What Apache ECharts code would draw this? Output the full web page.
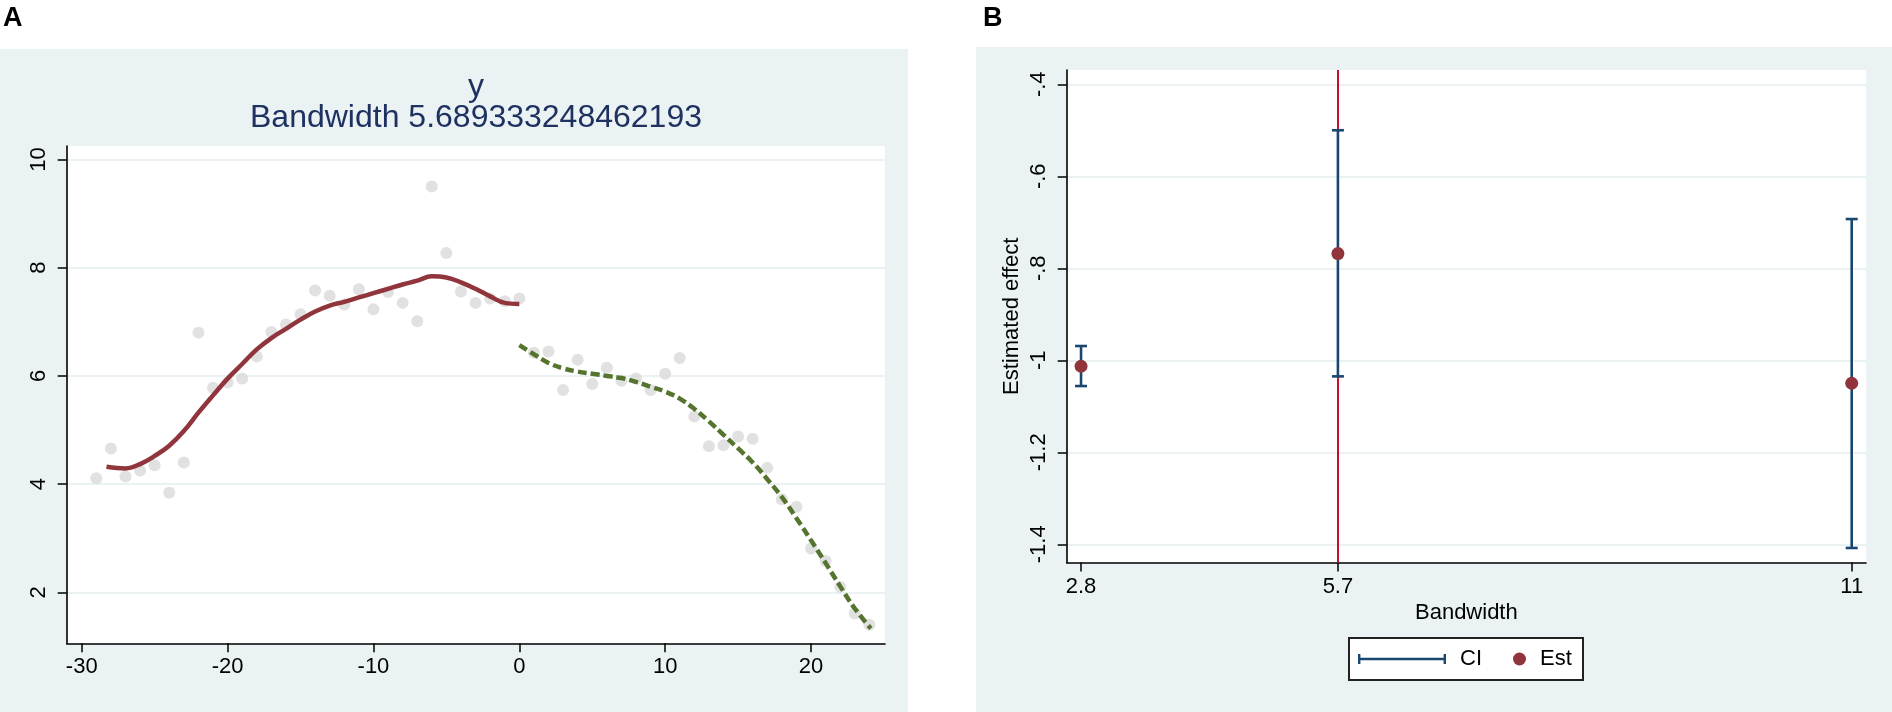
<!DOCTYPE html>
<html>
<head>
<meta charset="utf-8">
<script src="https://cdn.jsdelivr.net/npm/echarts@6/dist/echarts.min.js"></script>
<style>
  html, body { margin: 0; padding: 0; background: #fff; }
  #main { width: 1892px; height: 712px; }
</style>
</head>
<body>
<div id="main"></div>
<script>
// panel A: binned means and the two local polynomial fits
var binX = [-29,-28,-27,-26,-25,-24,-23,-22,-21,-20,-19,-18,-17,-16,-15,-14,-13,-12,-11,-10,-9,-8,-7,-6,-5,-4,-3,-2,-1,0,
            1,2,3,4,5,6,7,8,9,10,11,12,13,14,15,16,17,18,19,20,21,22,23,24];
var binY = [4.11,4.66,4.14,4.25,4.35,3.84,4.40,6.80,5.78,5.88,5.95,6.36,6.81,6.95,7.14,7.58,7.48,7.32,7.60,7.23,7.55,7.35,7.01,9.50,8.27,7.56,7.35,7.43,7.38,7.43,
            6.43,6.45,5.74,6.30,5.85,6.15,5.91,5.95,5.74,6.04,6.33,5.25,4.70,4.72,4.88,4.84,4.30,3.72,3.58,2.81,2.58,2.10,1.61,1.40];

var leftFitX = [-28.3,-27,-26,-25,-24,-23,-22,-21,-20,-19,-18,-17,-16,-15,-14,-13,-12,-11,-10,-9,-8,-7,-6,-5,-4,-3,-2,-1,0];
var leftFitY = [4.32,4.29,4.37,4.52,4.71,4.98,5.32,5.64,5.95,6.22,6.49,6.70,6.87,7.04,7.19,7.30,7.37,7.45,7.53,7.61,7.69,7.76,7.84,7.82,7.73,7.61,7.47,7.35,7.33];

var rightFitX = [0,1,2,3,4,5,6,7,8,9,10,11,12,13,14,15,16,17,18,19,20,21,22,23,24.1];
var rightFitY = [6.57,6.40,6.24,6.14,6.08,6.04,6.00,5.96,5.89,5.80,5.71,5.58,5.39,5.16,4.91,4.66,4.40,4.09,3.76,3.37,2.96,2.54,2.11,1.70,1.33];

var ticksAX = [-30,-20,-10,0,10,20];
var ticksAY = [2,4,6,8,10];
var bandwidth = 5.689333248462193;

// panel B: estimates by bandwidth
var bwX = [2.8447, 5.6893, 11.3787];
var bwLabels = ['2.8', '5.7', '11'];
var est = [-1.013, -0.768, -1.050];
var ciLo = [-1.056, -1.035, -1.408];
var ciHi = [-0.969, -0.500, -0.693];
var ticksBY = [-1.4, -1.2, -1, -0.8, -0.6, -0.4];

var navy = '#1a476f', maroon = '#90353b', green = '#55752f', bg = '#eaf2f3';
var font = 'Liberation Sans, Arial, sans-serif';

function pairs(xs, ys) {
  return xs.map(function (x, i) { return [x, ys[i]]; });
}

function stataLabel(v) {
  // -0.4 -> -.4
  var s = String(Math.round(v * 10) / 10);
  return s.replace(/^(-?)0\./, '$1.');
}

var chart = echarts.init(document.getElementById('main'));

var axisCommon = {
  axisLine: { show: true, onZero: false, lineStyle: { color: '#000', width: 1.6 } },
  axisTick: { show: true, length: 9, lineStyle: { color: '#000', width: 1.5 } },
  axisLabel: { color: '#000', fontSize: 22, fontFamily: font }
};

var option = {
  backgroundColor: '#fff',
  animation: false,
  textStyle: { fontFamily: font },
  title: [
    { text: 'A', left: 3, top: 5, padding: 0, textStyle: { fontSize: 27, fontWeight: 'bold', color: '#000' } },
    { text: 'B', left: 983, top: 5, padding: 0, textStyle: { fontSize: 27, fontWeight: 'bold', color: '#000' } },
    {
      text: 'y\nBandwidth ' + bandwidth,
      left: 476, top: 72, padding: 0, textAlign: 'center',
      textStyle: { fontSize: 32, fontWeight: 'normal', color: '#1e3160', lineHeight: 31 }
    }
  ],
  graphic: [
    { type: 'rect', z: -10, shape: { x: 0, y: 49, width: 908, height: 663 }, style: { fill: bg } },
    { type: 'rect', z: -10, shape: { x: 976, y: 47, width: 916, height: 665 }, style: { fill: bg } },
    { type: 'rect', z: 1, shape: { x: 1349, y: 638, width: 234, height: 42 }, style: { fill: '#fff', stroke: '#222', lineWidth: 2 } }
  ],
  legend: [
    {
      z: 5, left: 1358, top: 648, padding: 0, itemWidth: 88, itemHeight: 10,
      data: [{ name: 'CI', icon: 'path://M0,3.8h88v2.4H0z M0,0h2.4v10H0z M85.6,0h2.4v10h-2.4z' }],
      textStyle: { fontSize: 22, color: '#000', padding: [0, 0, 0, 9] },
      selectedMode: false
    },
    {
      z: 5, left: 1513, top: 648, padding: 0, itemWidth: 13, itemHeight: 13,
      data: [{ name: 'Est', icon: 'circle' }],
      textStyle: { fontSize: 22, color: '#000', padding: [0, 0, 0, 9] },
      selectedMode: false
    }
  ],
  grid: [
    { left: 66.7, top: 146, width: 818.3, height: 497.3, show: true, backgroundColor: '#fff', borderWidth: 0 },
    { left: 1066.7, top: 70, width: 799.3, height: 492.5, show: true, backgroundColor: '#fff', borderWidth: 0 }
  ],
  xAxis: [
    echarts.util.merge({
      gridIndex: 0, type: 'value', min: -31.03, max: 25.07,
      axisTick: { customValues: ticksAX },
      axisLabel: { customValues: ticksAX, margin: 13 },
      splitLine: { show: false }
    }, axisCommon),
    echarts.util.merge({
      gridIndex: 1, type: 'value', min: 2.686, max: 11.537,
      axisTick: { customValues: bwX },
      axisLabel: {
        customValues: bwX, margin: 13,
        formatter: function (v) {
          var i = bwX.indexOf(v);
          return i >= 0 ? bwLabels[i] : '';
        }
      },
      splitLine: { show: false },
      name: 'Bandwidth', nameLocation: 'middle', nameGap: 35,
      nameTextStyle: { fontSize: 22, color: '#000' }
    }, axisCommon)
  ],
  yAxis: [
    echarts.util.merge({
      gridIndex: 0, type: 'value', min: 1.057, max: 10.25,
      axisTick: { customValues: ticksAY },
      axisLabel: { customValues: ticksAY, rotate: 90, margin: 17 },
      splitLine: { show: true, lineStyle: { color: bg, width: 2 } }
    }, axisCommon),
    echarts.util.merge({
      gridIndex: 1, type: 'value', min: -1.4396, max: -0.369,
      axisTick: { customValues: ticksBY },
      axisLabel: { customValues: ticksBY, rotate: 90, margin: 17, formatter: stataLabel },
      splitLine: { show: true, lineStyle: { color: bg, width: 2 } },
      name: 'Estimated effect', nameLocation: 'middle', nameGap: 44, nameRotate: 90,
      nameTextStyle: { fontSize: 22, color: '#000' }
    }, axisCommon)
  ],
  series: [
    {
      name: 'bins', type: 'scatter', xAxisIndex: 0, yAxisIndex: 0, z: 2,
      symbolSize: 12, itemStyle: { color: '#d9d9d9' },
      data: pairs(binX, binY), silent: true
    },
    {
      name: 'fit left', type: 'line', xAxisIndex: 0, yAxisIndex: 0, z: 3,
      showSymbol: false, smooth: 0.4,
      lineStyle: { color: maroon, width: 4.5 },
      data: pairs(leftFitX, leftFitY)
    },
    {
      name: 'fit right', type: 'line', xAxisIndex: 0, yAxisIndex: 0, z: 3,
      showSymbol: false, smooth: 0.4,
      lineStyle: { color: green, width: 4.5, type: [9, 4] },
      data: pairs(rightFitX, rightFitY)
    },
    {
      name: 'cutoff', type: 'line', xAxisIndex: 1, yAxisIndex: 1, z: 1, data: [],
      markLine: {
        z: 1, silent: true, symbol: 'none', label: { show: false },
        lineStyle: { color: '#c8102e', width: 2, type: 'solid' },
        data: [{ xAxis: bandwidth }]
      }
    },
    {
      name: 'CI', type: 'custom', xAxisIndex: 1, yAxisIndex: 1, z: 3,
      itemStyle: { color: navy },
      data: bwX.map(function (x, i) { return [x, ciLo[i], ciHi[i]]; }),
      renderItem: function (params, api) {
        var x = api.value(0);
        var hi = api.coord([x, api.value(2)]);
        var lo = api.coord([x, api.value(1)]);
        var w = 6;
        var st = { stroke: navy, lineWidth: 2.6 };
        return {
          type: 'group',
          children: [
            { type: 'line', shape: { x1: hi[0], y1: hi[1], x2: lo[0], y2: lo[1] }, style: st },
            { type: 'line', shape: { x1: hi[0] - w, y1: hi[1], x2: hi[0] + w, y2: hi[1] }, style: st },
            { type: 'line', shape: { x1: lo[0] - w, y1: lo[1], x2: lo[0] + w, y2: lo[1] }, style: st }
          ]
        };
      }
    },
    {
      name: 'Est', type: 'scatter', xAxisIndex: 1, yAxisIndex: 1, z: 4,
      symbolSize: 13, itemStyle: { color: maroon, opacity: 1 },
      data: pairs(bwX, est)
    }
  ]
};

chart.setOption(option);
</script>
</body>
</html>
